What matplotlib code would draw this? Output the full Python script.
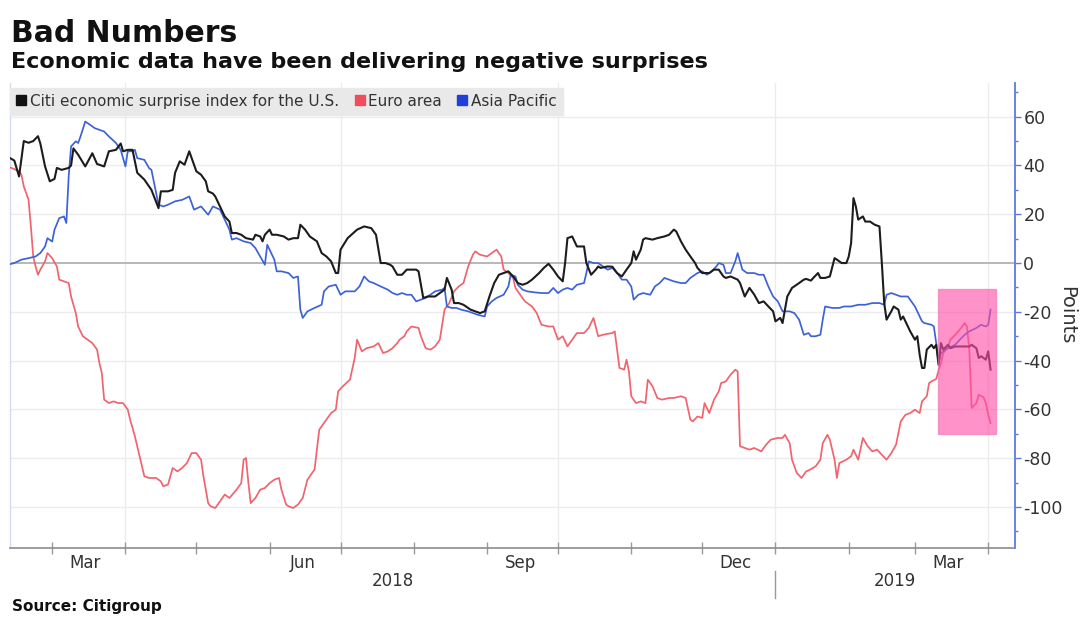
import matplotlib
matplotlib.use("Agg")
import matplotlib.pyplot as plt
import matplotlib.dates as mdates
import matplotlib.transforms as mtransforms
from matplotlib.lines import Line2D
from matplotlib.patches import Rectangle
import pandas as pd

# Day offsets are counted from this date
BASE_DATE = pd.Timestamp("2018-02-01")

# Citi economic surprise index, United States
us_day = [9, 12, 14, 16, 18, 20, 22, 23, 25, 27,
          29, 30, 32, 35, 36, 37, 39, 42, 45, 47,
          50, 52, 55, 57, 58, 60, 62, 64, 67, 70,
          73, 74, 77, 79, 80, 82, 84, 86, 88, 89,
          91, 93, 94, 96, 97, 99, 101, 103, 104, 106,
          108, 110, 113, 114, 116, 117, 118, 120, 121, 123,
          126, 128, 130, 132, 133, 135, 137, 140, 142, 144,
          146, 148, 149, 150, 153, 157, 160, 163, 165, 167,
          169, 171, 172, 174, 176, 178, 180, 182, 183, 185,
          187, 190, 192, 194, 195, 197, 198, 200, 202, 205,
          207, 209, 211, 213, 215, 217, 219, 221, 223, 225,
          227, 229, 231, 234, 236, 238, 240, 242, 244, 245,
          246, 248, 249, 250, 253, 254, 256, 258, 259, 260,
          263, 265, 267, 269, 271, 273, 274, 275, 277, 278,
          279, 282, 284, 287, 289, 291, 292, 294, 296, 298,
          300, 301, 303, 306, 308, 310, 312, 313, 315, 318,
          319, 321, 323, 325, 327, 329, 331, 333, 334, 336,
          337, 338, 339, 341, 344, 346, 347, 349, 350, 352,
          353, 355, 357, 359, 360, 362, 364, 365, 366, 367,
          368, 369, 371, 372, 374, 376, 378, 379, 380, 381,
          383, 384, 386, 387, 388, 390, 391, 393, 394, 395,
          396, 397, 398, 400, 401, 402, 403, 404, 405, 407,
          408, 410, 412, 414, 416, 417, 419, 420, 421, 423,
          424, 425]
us_val = [43.7, 42.0, 35.5, 50.0, 49.3, 50.0, 52.0, 49.0, 39.6, 33.5,
          34.5, 39.0, 38.2, 39.0, 40.0, 47.0, 44.4, 39.6, 45.0, 40.6,
          39.6, 45.8, 46.4, 49.0, 45.8, 46.4, 46.4, 37.0, 34.2, 30.0,
          22.5, 29.4, 29.4, 30.0, 37.0, 41.7, 40.3, 45.8, 40.3, 37.6,
          36.2, 33.5, 29.4, 28.5, 27.3, 23.2, 19.1, 17.0, 12.3, 12.3,
          11.6, 10.2, 9.6, 11.6, 10.9, 8.9, 11.6, 13.7, 11.6, 11.6,
          10.9, 9.6, 10.2, 10.2, 15.7, 13.7, 10.9, 8.9, 4.1, 2.7,
          0.7, -4.1, -4.1, 5.5, 10.2, 13.7, 15.0, 14.3, 11.6, 0.0,
          0.0, -0.7, -1.4, -4.8, -4.8, -2.7, -2.7, -2.7, -3.4, -14.3,
          -13.7, -13.7, -12.3, -10.9, -6.1, -10.9, -16.4, -16.4, -17.1, -19.1,
          -19.8, -20.5, -19.8, -13.7, -8.2, -4.8, -4.1, -3.4, -5.5, -8.2,
          -8.9, -8.2, -6.8, -4.1, -2.0, -0.3, -2.7, -5.5, -7.5, 0.0,
          10.2, 10.9, 8.9, 6.8, 6.8, 0.0, -4.8, -2.7, -1.4, -2.0,
          -1.4, -1.5, -4.1, -5.5, -2.7, 0.0, 4.8, 1.4, 5.5, 9.6,
          10.2, 9.6, 10.2, 10.9, 11.6, 13.7, 13.0, 8.9, 5.5, 2.7,
          0.0, -2.0, -4.1, -4.1, -2.7, -2.7, -5.5, -6.1, -5.5, -6.8,
          -8.2, -13.7, -10.2, -12.9, -16.4, -15.7, -17.8, -19.8, -23.9, -22.5,
          -24.6, -19.1, -13.7, -10.2, -8.2, -6.8, -6.5, -7.2, -6.1, -4.1,
          -6.1, -6.1, -5.5, 2.0, 1.4, 0.0, 0.0, 2.7, 8.2, 26.6,
          23.2, 17.8, 19.1, 17.0, 17.0, 15.7, 15.0, 0.0, -16.4, -23.2,
          -19.8, -17.8, -19.1, -23.2, -21.9, -26.0, -28.0, -31.4, -30.0, -37.6,
          -43.0, -43.0, -35.5, -33.5, -34.9, -33.5, -41.7, -32.8, -35.5, -33.5,
          -34.9, -34.2, -34.2, -34.2, -34.2, -33.5, -34.9, -38.9, -38.2, -39.6,
          -36.2, -43.7]

# Euro area
euro_day = [9, 11, 14, 15, 16, 18, 19, 20, 21, 22,
            23, 25, 26, 28, 30, 31, 33, 35, 36, 38,
            39, 41, 43, 45, 47, 48, 49, 50, 52, 54,
            56, 58, 60, 61, 63, 65, 67, 69, 72, 74,
            75, 77, 79, 81, 83, 85, 87, 89, 91, 92,
            94, 95, 97, 99, 101, 103, 106, 108, 109, 110,
            111, 112, 114, 116, 118, 120, 122, 124, 125, 127,
            128, 130, 132, 134, 136, 138, 139, 141, 143, 146,
            148, 149, 151, 154, 156, 157, 159, 161, 164, 166,
            168, 170, 172, 174, 175, 177, 178, 180, 183, 184,
            186, 188, 190, 192, 194, 196, 198, 200, 202, 204,
            206, 207, 209, 212, 214, 216, 218, 219, 221, 223,
            224, 226, 228, 231, 233, 235, 238, 240, 242, 244,
            246, 248, 250, 253, 255, 257, 259, 261, 263, 265,
            266, 267, 268, 270, 271, 272, 273, 275, 277, 279,
            280, 282, 284, 286, 289, 291, 294, 296, 298, 299,
            301, 303, 304, 306, 308, 310, 311, 313, 315, 317,
            318, 319, 321, 323, 325, 328, 330, 332, 335, 337,
            338, 340, 341, 343, 345, 347, 349, 351, 353, 354,
            356, 357, 359, 360, 361, 364, 366, 367, 369, 371,
            373, 375, 377, 379, 381, 383, 385, 387, 389, 391,
            393, 395, 396, 398, 399, 400, 402, 403, 404, 405,
            407, 408, 409, 412, 413, 414, 415, 416, 417, 419,
            420, 422, 423, 424, 425]
euro_val = [39.6, 38.9, 37.6, 36.2, 31.4, 26.0, 15.0, 2.7, -1.4, -4.8,
            -2.7, 0.7, 4.1, 2.0, -1.4, -6.8, -7.5, -8.2, -13.7, -20.5,
            -26.0, -30.0, -31.4, -32.8, -35.5, -41.0, -45.0, -56.0, -57.4, -56.7,
            -57.4, -57.4, -60.1, -64.2, -71.0, -79.2, -87.4, -88.1, -88.1, -89.5,
            -91.5, -90.8, -84.0, -85.4, -84.0, -82.0, -77.9, -77.9, -80.6, -87.4,
            -98.4, -99.7, -100.4, -97.7, -94.9, -96.3, -92.9, -90.2, -80.6, -79.9,
            -90.0, -98.4, -96.3, -92.9, -92.2, -90.2, -88.8, -88.1, -92.9, -99.0,
            -99.7, -100.4, -99.0, -96.3, -88.8, -86.0, -84.7, -68.3, -65.6, -61.5,
            -60.1, -52.6, -50.5, -47.8, -38.9, -31.4, -36.2, -34.9, -34.2, -32.8,
            -36.9, -36.2, -34.9, -32.8, -31.4, -30.0, -28.0, -26.0, -26.6, -30.0,
            -34.9, -35.5, -34.2, -31.4, -19.1, -16.4, -11.6, -9.6, -8.2, -1.4,
            3.4, 4.8, 3.4, 2.7, 4.1, 5.5, 2.7, -2.7, -4.1, -6.1,
            -10.2, -13.0, -15.7, -17.8, -20.5, -25.3, -26.0, -26.0, -31.4, -30.0,
            -34.2, -31.4, -28.7, -28.7, -26.6, -22.5, -30.0, -29.4, -29.0, -28.7,
            -28.0, -35.5, -43.0, -43.7, -39.6, -44.4, -54.6, -57.4, -56.7, -57.4,
            -47.8, -50.5, -55.3, -56.0, -55.3, -55.3, -54.6, -55.3, -64.2, -64.9,
            -62.9, -63.5, -57.4, -61.5, -56.0, -52.6, -49.2, -48.5, -45.8, -43.7,
            -44.4, -75.1, -75.8, -76.5, -75.8, -77.2, -74.5, -72.4, -71.7, -71.7,
            -70.4, -73.8, -80.6, -86.0, -88.1, -85.4, -84.5, -83.3, -80.6, -73.8,
            -70.4, -72.4, -80.6, -88.1, -82.0, -80.6, -79.2, -76.5, -80.6, -71.7,
            -75.1, -77.2, -76.5, -78.6, -80.6, -77.9, -74.5, -64.9, -62.2, -61.5,
            -60.1, -61.5, -56.7, -54.6, -49.2, -48.5, -47.5, -44.0, -41.0, -36.9,
            -34.2, -31.4, -30.5, -27.3, -26.0, -24.6, -26.0, -35.5, -59.4, -57.4,
            -54.0, -55.0, -57.4, -62.2, -65.6]

# Asia Pacific
asia_day = [9, 12, 15, 18, 21, 23, 25, 26, 28, 29,
            31, 33, 34, 35, 36, 38, 39, 40, 42, 44,
            46, 48, 50, 52, 55, 57, 59, 60, 62, 63,
            64, 67, 69, 70, 72, 73, 75, 77, 80, 83,
            86, 88, 91, 94, 96, 99, 101, 103, 104, 106,
            109, 112, 114, 116, 118, 119, 120, 122, 123, 125,
            128, 130, 132, 133, 134, 136, 139, 142, 143, 145,
            148, 150, 152, 156, 158, 160, 162, 164, 167, 170,
            172, 174, 176, 178, 180, 182, 184, 186, 188, 190,
            193, 194, 195, 197, 199, 201, 204, 206, 208, 211,
            212, 214, 216, 219, 221, 222, 224, 225, 227, 229,
            232, 235, 238, 240, 242, 244, 246, 248, 250, 253,
            254, 255, 257, 259, 261, 263, 265, 267, 269, 271,
            273, 274, 276, 278, 281, 283, 285, 287, 289, 291,
            294, 296, 298, 301, 303, 305, 307, 309, 310, 312,
            313, 315, 317, 318, 320, 322, 325, 327, 329, 331,
            333, 335, 337, 340, 342, 344, 346, 348, 349, 351,
            353, 354, 355, 358, 361, 363, 366, 369, 372, 375,
            378, 380, 381, 383, 385, 387, 390, 393, 394, 396,
            397, 400, 401, 402, 403, 404, 407, 410, 412, 414,
            416, 419, 421, 423, 424, 425]
asia_val = [-0.7, 0.0, 1.4, 2.0, 2.7, 4.1, 6.8, 10.2, 8.8, 13.7,
            18.4, 19.1, 16.4, 35.5, 47.8, 49.9, 49.2, 51.9, 58.0, 56.7,
            55.3, 54.6, 53.9, 51.9, 49.2, 46.4, 39.6, 45.8, 45.8, 46.4,
            43.0, 42.3, 38.9, 38.2, 28.7, 23.9, 23.2, 23.9, 25.3, 25.9,
            27.3, 21.9, 23.2, 19.8, 23.2, 21.9, 17.8, 13.7, 9.6, 10.2,
            8.9, 8.2, 6.1, 2.7, -0.7, 7.5, 5.5, 1.4, -3.4, -3.4,
            -4.1, -6.1, -5.5, -19.1, -22.5, -19.8, -18.4, -17.1, -11.6, -9.6,
            -8.9, -13.0, -11.6, -11.6, -9.6, -5.5, -7.5, -8.2, -9.6, -10.9,
            -12.3, -13.0, -12.3, -13.0, -13.0, -15.7, -15.0, -14.3, -13.0, -11.6,
            -10.9, -10.2, -17.8, -18.4, -18.4, -19.1, -19.8, -20.5, -21.2, -21.9,
            -17.8, -15.7, -14.3, -13.0, -9.6, -4.8, -5.5, -8.9, -10.9, -11.6,
            -12.0, -12.3, -12.3, -10.2, -12.3, -10.9, -10.2, -10.9, -8.9, -8.2,
            -4.1, 0.7, 0.0, 0.0, -1.4, -2.7, -2.0, -4.1, -6.8, -6.8,
            -9.6, -15.0, -13.0, -12.3, -13.0, -9.6, -8.2, -6.1, -6.8, -7.5,
            -8.2, -8.2, -6.1, -4.1, -3.4, -4.8, -3.4, -1.4, 0.0, -0.7,
            -4.1, -4.1, 0.7, 4.1, -2.7, -4.1, -4.1, -4.8, -4.8, -9.6,
            -13.7, -15.7, -19.8, -19.8, -20.5, -23.2, -29.4, -28.7, -30.0, -30.0,
            -29.4, -23.2, -17.8, -18.4, -18.4, -17.8, -17.8, -17.1, -17.1, -16.4,
            -16.4, -17.1, -13.0, -12.3, -13.0, -13.7, -13.7, -17.8, -19.8, -23.9,
            -24.6, -25.3, -26.0, -32.8, -41.0, -36.9, -34.9, -33.5, -31.4, -29.4,
            -28.0, -26.6, -25.3, -26.0, -25.3, -19.1]

series_labels = ["Citi economic surprise index for the U.S.", "Euro area", "Asia Pacific"]
series_colors = ["#1c1c1c", "#f0646e", "#3d62d6"]
legend_colors = ["#111111", "#f04d5c", "#1f3fd8"]

y_ticks = [-100, -80, -60, -40, -20, 0, 20, 40, 60]
y_limits = (-116.8, 73.8)
x_limits = ("2018-02-11 04:00", "2019-04-12 08:00")
quarter_lines = ["2018-04-01", "2018-07-01", "2018-10-01", "2019-01-01", "2019-04-01"]
month_labels = ["2018-03-15", "2018-06-15", "2018-09-15", "2018-12-15", "2019-03-15"]
year_break = "2019-01-01"

# Highlighted recent stretch
highlight_start = "2019-03-10 14:00"
highlight_end = "2019-04-04 06:00"
highlight_low, highlight_high = -70.0, -10.5


def to_dates(days):
    return BASE_DATE + pd.to_timedelta(days, unit="D")


W, H = 1089, 618
fig = plt.figure(figsize=(W / 100, H / 100), dpi=100)
fig.patch.set_facecolor("white")

ax = fig.add_axes([10 / W, 70 / H, 1005 / W, 465 / H])
ax.set_facecolor("white")

xmin, xmax = pd.Timestamp(x_limits[0]), pd.Timestamp(x_limits[1])
ax.set_xlim(xmin, xmax)
ax.set_ylim(*y_limits)

# grid
for v in y_ticks:
    if v == 0:
        ax.axhline(v, color="#b8b8b8", lw=1.4, zorder=1)
    else:
        ax.axhline(v, color="#ececec", lw=1.0, zorder=0)
for d in quarter_lines:
    ax.axvline(pd.Timestamp(d), color="#ececec", lw=1.0, zorder=0)

# series
for days, vals, col, lw in [(euro_day, euro_val, series_colors[1], 1.25),
                            (asia_day, asia_val, series_colors[2], 1.25),
                            (us_day, us_val, series_colors[0], 1.5)]:
    ax.plot(to_dates(days), vals, color=col, lw=lw, zorder=3,
            solid_joinstyle="round")

# highlight box
x0 = mdates.date2num(pd.Timestamp(highlight_start))
x1 = mdates.date2num(pd.Timestamp(highlight_end))
ax.add_patch(Rectangle((x0, highlight_low), x1 - x0, highlight_high - highlight_low,
                       facecolor="#ff4fa8", edgecolor="#f070b0", lw=1.0,
                       alpha=0.62, zorder=4))

# spines
ax.spines["top"].set_visible(False)
ax.spines["left"].set_color("#d6dcef")
ax.spines["left"].set_linewidth(1.0)
ax.spines["right"].set_color("#5a7be0")
ax.spines["right"].set_linewidth(1.3)
ax.spines["bottom"].set_color("#8c8c8c")
ax.spines["bottom"].set_linewidth(1.2)

# y axis on the right
ax.yaxis.tick_right()
ax.yaxis.set_label_position("right")
ax.set_yticks(y_ticks)
ax.set_yticklabels([str(v) for v in y_ticks])
ax.set_yticks(list(range(-110, 71, 10)), minor=True)
ax.tick_params(axis="y", which="major", direction="out", length=4, width=1,
               color="#5a7be0", labelsize=12.5, labelcolor="#333333", pad=2,
               left=False, right=True)
ax.tick_params(axis="y", which="minor", direction="out", length=2.5, width=1,
               color="#5a7be0", left=False, right=True)
ax.set_ylabel("Points", rotation=270, fontsize=14, color="#333333", labelpad=10)

# x axis: month ticks and centred labels
ax.xaxis.set_major_locator(mdates.MonthLocator())
ax.xaxis.set_major_formatter(plt.NullFormatter())
ax.tick_params(axis="x", which="major", direction="inout", length=8, width=1,
               color="#9a9a9a")
ax.set_xticks([pd.Timestamp(d) for d in month_labels], minor=True)
ax.set_xticklabels([pd.Timestamp(d).strftime("%b") for d in month_labels], minor=True)
ax.tick_params(axis="x", which="minor", length=0, labelsize=12, labelcolor="#333333", pad=4)

# year labels centred on the visible part of each year
trans = mtransforms.blended_transform_factory(ax.transData, ax.transAxes)
yb = pd.Timestamp(year_break)
for lo, hi, lab in [(xmin, yb, "2018"), (yb, xmax, "2019")]:
    mid = lo + (hi - lo) / 2
    ax.text(mid, -0.072, lab, transform=trans, ha="center", va="center",
            fontsize=12, color="#333333")
ax.plot([yb, yb], [-0.05, -0.108], transform=trans, color="#9a9a9a", lw=1,
        clip_on=False)

# legend
handles = [Line2D([], [], marker="s", linestyle="none", markersize=7.5,
                  markerfacecolor=c, markeredgecolor=c) for c in legend_colors]
leg = ax.legend(handles, series_labels, loc="upper left", bbox_to_anchor=(0.0, 0.99),
                ncol=3, frameon=True, fancybox=False, framealpha=1,
                facecolor="#e9e9e9", edgecolor="#e9e9e9", fontsize=11,
                handlelength=0.7, handletextpad=0.2, columnspacing=1.0,
                borderpad=0.4, borderaxespad=0)
for t in leg.get_texts():
    t.set_color("#333333")
leg.set_zorder(6)

# titles and source
fig.text(11 / W, 1 - 19 / H, "Bad Numbers", fontsize=21.5, fontweight="bold",
         va="top", ha="left", color="#111111")
fig.text(11 / W, 1 - 52 / H, "Economic data have been delivering negative surprises",
         fontsize=16, fontweight="bold", va="top", ha="left", color="#111111")
fig.text(12 / W, 1 - 599 / H, "Source: Citigroup", fontsize=11, fontweight="bold",
         va="top", ha="left", color="#111111")

fig.savefig("out.png", dpi=100, facecolor="white")
